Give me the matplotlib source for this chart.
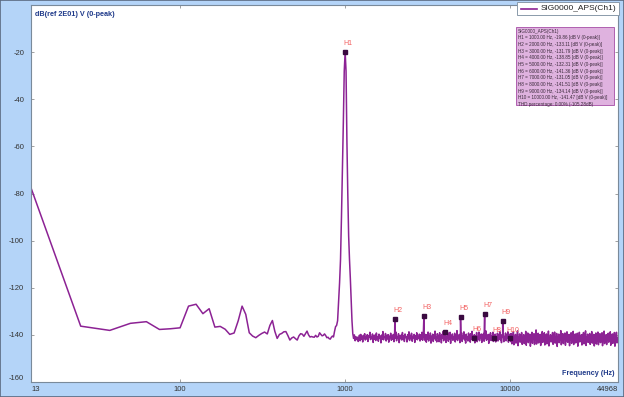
import numpy as np
import matplotlib
matplotlib.use("Agg")
import matplotlib.pyplot as plt
from matplotlib.patches import Rectangle
from matplotlib.lines import Line2D

plt.rcParams['font.family'] = ['Liberation Sans', 'DejaVu Sans']

# ---------------- data ----------------
bin_width_hz = 12.5
# FFT bins 1..96 (12.5 Hz .. 1200 Hz)
low_db = [
    -77.6, -136.3, -138.1, -135.1, -134.4, -137.7, -137.4, -137.0, -127.8, -127.0,
    -131.0, -128.9, -136.7, -136.4, -137.6, -139.8, -139.2, -134.0, -127.8, -131.3,
    -139.1, -140.5, -141.2, -140.2, -139.4, -138.8, -139.6, -136.0, -133.9, -138.5,
    -141.5, -139.8, -139.4, -138.7, -138.6, -140.3, -142.2, -141.3, -140.9, -141.6,
    -142.2, -140.4, -139.5, -139.7, -140.6, -139.5, -138.4, -140.0, -140.9, -140.7,
    -140.9, -141.0, -140.2, -140.9, -140.6, -139.1, -139.8, -140.4, -140.2, -139.6,
    -140.3, -141.2, -141.0, -141.6, -141.8, -141.0, -140.5, -140.9, -138.5, -136.5,
    -136.0, -134.0, -126.0, -118.0, -108.0, -90.0, -70.0, -50.0, -28.0, -19.86,
    -28.0, -58.0, -80.0, -98.0, -108.0, -116.0, -125.0, -134.0, -139.5, -141.5,
    -140.0, -142.5, -140.8, -142.0, -141.0, -142.8,
]

# noise floor, 1210 Hz .. 3000 Hz
noise_a_range = (1210.0, 3000.0)
noise_a_db = [
    -141.2, -140.1, -142.5, -139.8, -141.9, -140.6, -143.0, -140.2, -141.4, -139.5,
    -142.2, -140.8, -141.7, -139.9, -142.8, -140.4, -141.1, -138.9, -142.0, -140.7,
    -141.6, -139.6, -143.2, -140.3, -141.8, -140.0, -142.4, -139.2, -141.3, -140.9,
    -142.7, -139.7, -141.5, -140.5, -143.4, -140.1, -141.9, -138.6, -142.1, -140.8,
    -141.0, -139.4, -142.6, -140.2, -141.7, -139.9, -143.1, -140.6, -141.2, -139.3,
    -142.3, -140.4, -141.8, -139.8, -142.9, -140.0, -141.4, -138.8, -142.5, -140.7,
    -141.3, -139.5, -143.3, -140.3, -141.6, -140.1, -142.2, -139.0, -141.9, -140.5,
    -142.8, -139.6, -141.1, -140.8, -143.0, -139.9, -141.7, -138.7, -142.4, -140.2,
    -141.5, -139.3, -142.7, -140.6, -141.2, -139.8, -143.2, -140.4, -141.8, -139.1,
    -142.1, -140.9, -141.4, -139.7, -142.6, -140.0, -141.9, -138.9, -142.3, -140.5,
]

# noise floor, 3000 Hz .. 10000 Hz
noise_b_range = (3005.0, 9990.0)
noise_b_db = [
    -141.0, -139.6, -142.4, -140.1, -143.1, -139.9, -141.7, -138.8, -142.6, -140.4,
    -141.3, -139.2, -143.5, -140.6, -141.9, -139.7, -142.8, -140.0, -141.5, -138.4,
    -142.2, -140.8, -143.0, -139.5, -141.4, -140.2, -142.9, -139.1, -141.8, -140.5,
    -143.4, -139.8, -141.2, -138.6, -142.5, -140.3, -141.6, -139.4, -143.2, -140.7,
    -141.1, -139.0, -142.7, -140.1, -141.9, -138.9, -143.6, -140.4, -141.5, -139.6,
    -142.3, -140.9, -141.0, -139.3, -143.0, -140.2, -141.8, -138.2, -142.4, -140.6,
    -141.4, -139.8, -143.3, -140.0, -141.7, -139.1, -142.8, -140.5, -141.2, -138.7,
    -142.1, -140.3, -143.5, -139.7, -141.6, -140.8, -142.6, -139.2, -141.3, -140.1,
    -143.1, -139.5, -141.9, -138.5, -142.2, -140.6, -141.0, -139.9, -143.4, -140.4,
    -141.5, -139.0, -142.9, -140.7, -141.8, -138.8, -142.5, -140.2, -141.1, -139.6,
    -143.2, -140.0, -141.7, -139.4, -142.7, -140.9, -141.3, -138.3, -142.3, -140.5,
    -141.6, -139.8, -143.6, -140.1, -141.4, -139.1, -142.4, -140.6, -141.9, -138.9,
    -142.8, -140.3, -141.2, -139.7, -143.0, -140.8, -141.5, -139.3, -142.6, -140.0,
    -141.8, -138.6, -142.1, -140.4, -143.3, -139.9, -141.0, -139.5, -142.9, -140.7,
    -141.7, -139.2, -142.5, -140.2, -141.3, -138.7, -143.1, -140.5, -141.6, -139.6,
]

# noise floor, 10000 Hz .. 44968 Hz
noise_c_range = (10010.0, 44968.0)
noise_c_db = [
    -140.6, -142.9, -139.4, -143.8, -140.2, -142.1, -138.7, -144.2, -141.0, -142.6,
    -139.8, -143.5, -140.5, -141.9, -138.3, -144.6, -140.9, -142.4, -139.6, -143.1,
    -140.1, -142.8, -139.0, -144.0, -141.3, -142.2, -139.9, -143.7, -140.7, -141.6,
    -138.5, -144.4, -140.3, -142.5, -139.2, -143.3, -141.1, -142.0, -139.7, -144.8,
    -140.8, -142.7, -138.9, -143.6, -140.4, -141.8, -139.5, -144.1, -141.2, -142.3,
    -137.9, -143.9, -140.6, -142.6, -139.3, -143.4, -140.0, -142.1, -139.8, -144.5,
    -141.0, -142.9, -138.6, -143.2, -140.5, -141.7, -139.1, -144.3, -140.9, -142.4,
    -139.6, -143.8, -140.2, -142.0, -138.4, -144.7, -141.4, -142.5, -139.9, -143.0,
    -140.7, -142.8, -139.0, -144.0, -140.3, -141.9, -138.8, -143.5, -141.1, -142.2,
    -139.4, -144.9, -140.8, -142.6, -139.7, -143.3, -140.1, -142.1, -138.2, -144.2,
    -141.3, -142.7, -139.5, -143.7, -140.6, -141.8, -139.2, -144.4, -140.4, -142.3,
    -138.7, -143.1, -141.0, -142.9, -139.8, -144.6, -140.0, -142.0, -139.1, -143.6,
    -140.9, -142.4, -138.5, -144.1, -141.2, -142.6, -139.6, -143.4, -140.5, -141.7,
    -139.3, -144.8, -140.7, -142.8, -138.9, -143.0, -141.4, -142.2, -139.9, -144.3,
    -140.2, -142.5, -139.0, -143.8, -140.8, -141.9, -138.3, -144.5, -141.1, -142.7,
    -139.7, -143.2, -140.3, -142.1, -139.4, -144.0, -140.6, -142.9, -138.6, -143.5,
    -141.3, -142.3, -139.8, -144.7, -140.1, -141.8, -139.2, -143.9, -140.9, -142.6,
    -138.8, -144.2, -141.0, -142.0, -139.5, -143.3, -140.4, -142.8, -139.1, -144.6,
    -140.7, -142.4, -138.4, -143.7, -141.2, -142.2, -139.9, -144.1, -140.0, -141.7,
    -139.3, -143.1, -140.8, -142.5, -138.7, -144.4, -141.4, -142.9, -139.6, -143.6,
    -140.5, -142.1, -139.0, -144.8, -140.3, -142.7, -138.9, -143.4, -141.1, -142.3,
]

harm_names = ['H1', 'H2', 'H3', 'H4', 'H5', 'H6', 'H7', 'H8', 'H9', 'H10']
harm_freq = [1000.0, 2000.0, 3000.0, 4000.0, 5000.0, 6000.0, 7000.0, 8000.0, 9000.0, 10000.0]
harm_db = [-19.86, -133.11, -131.79, -138.85, -132.31, -141.36, -131.05, -141.51, -134.14, -141.47]

series_name = 'SIG0000_APS(Ch1)'
thd_text = 'THD percentage: 0.00% (-105.28dB)'
y_ticks = [-20, -40, -60, -80, -100, -120, -140, -160]
x_ticks = [12.5, 100, 1000, 10000, 44968]
x_tick_labels = ['13', '100', '1000', '10000', '44968']
y_label = 'dB(ref 2E01) V (0-peak)'
x_label = 'Frequency (Hz)'

# ---------------- assemble the spectrum ----------------
low_freq = np.arange(1, len(low_db) + 1) * bin_width_hz
fa = np.geomspace(noise_a_range[0], noise_a_range[1], len(noise_a_db), endpoint=False)
fb = np.geomspace(noise_b_range[0], noise_b_range[1], len(noise_b_db))
fc = np.geomspace(noise_c_range[0], noise_c_range[1], len(noise_c_db))
freq = np.concatenate([low_freq, fa, fb, fc, np.array(harm_freq[1:])])
db = np.concatenate([low_db, noise_a_db, noise_b_db, noise_c_db, harm_db[1:]])
order = np.argsort(freq, kind='stable')
freq, db = freq[order], db[order]

# ---------------- figure ----------------
W, H = 624, 397
BG = '#b4d4f8'
fig = plt.figure(figsize=(W / 100, H / 100), dpi=100, facecolor=BG)

def fx(px):
    return px / W

def fy(py):
    return 1 - py / H

ax = fig.add_axes([fx(31), fy(382), fx(618) - fx(31), fy(5) - fy(382)])
ax.set_facecolor('white')
line_color = '#8c2294'
ax.plot(freq, db, color=line_color, lw=1.1, solid_joinstyle='round')

ax.set_xscale('log')
ax.set_xlim(x_ticks[0], x_ticks[-1])
ax.set_ylim(-160, 0)
ax.set_xticks(x_ticks)
ax.set_xticklabels(x_tick_labels)
ax.xaxis.set_minor_locator(matplotlib.ticker.NullLocator())
ax.set_yticks(y_ticks)
ax.set_yticklabels([str(v) for v in y_ticks])
ax.tick_params(axis='both', direction='in', length=2.5, width=0.6, color='#909090',
               labelsize=5.5, labelcolor='#333333', top=True, right=True)
ax.tick_params(axis='x', pad=3)
ax.tick_params(axis='y', pad=5)
xl = ax.get_xticklabels()
xl[0].set_ha('left')
xl[-1].set_ha('right')
yl = ax.get_yticklabels()
yl[-1].set_va('bottom')
for s in ax.spines.values():
    s.set_color('#7a8a9a')
    s.set_linewidth(0.8)

ax.text(0.006, 0.985, y_label, transform=ax.transAxes, ha='left', va='top',
        fontsize=5.2, fontweight='bold', color='#1f3a8a')
ax.text(0.994, 0.012, x_label, transform=ax.transAxes, ha='right', va='bottom',
        fontsize=5.2, fontweight='bold', color='#1f3a8a')

# harmonic markers and labels
ax.plot(harm_freq, harm_db, ls='none', marker='s', ms=3.4, mfc='#3a0a40',
        mec='#3a0a40', zorder=5)
for n, f, d in zip(harm_names, harm_freq, harm_db):
    ax.annotate(n, (f, d), xytext=(2.2, 6), textcoords='offset points',
                ha='center', va='center', fontsize=5, color='#f26060', zorder=6)

# legend box
fig.patches.append(Rectangle((fx(517), fy(15)), fx(619) - fx(517), fy(2) - fy(15),
                             transform=fig.transFigure, facecolor='white',
                             edgecolor='#8a9aaa', lw=0.7, zorder=10))
fig.lines.append(Line2D([fx(521), fx(537)], [fy(9), fy(9)], transform=fig.transFigure,
                        color=line_color, lw=1.2, zorder=11))
fig.text(fx(541), fy(9), series_name, ha='left', va='center', fontsize=6.0,
         color='#222222', zorder=12)

# info box
fig.patches.append(Rectangle((fx(516), fy(105)), fx(614) - fx(516), fy(27) - fy(105),
                             transform=fig.transFigure, facecolor='#dfb2df',
                             edgecolor='#b060b0', lw=0.7, zorder=10))
info_lines = [series_name]
for n, f, d in zip(harm_names, harm_freq, harm_db):
    info_lines.append(f'{n} = {f:.2f} Hz, {d:.2f} [dB V (0-peak)]')
info_lines.append(thd_text)
fig.text(fx(518), fy(28.5), '\n'.join(info_lines), ha='left', va='top', fontsize=3.3,
         linespacing=1.42, color='#3a2a3a', zorder=12)

# outer frame
fig.patches.append(Rectangle((0, 0), 1, 1, transform=fig.transFigure, fill=False,
                             edgecolor='#5a6a80', lw=1.2, zorder=20))

fig.savefig('out.png', dpi=100, facecolor=BG)
